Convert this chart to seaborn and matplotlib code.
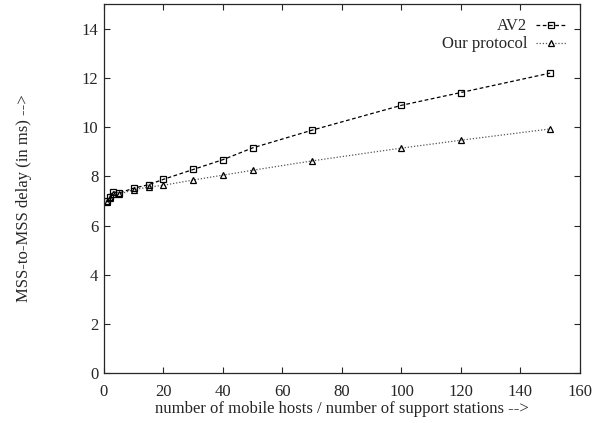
import pandas as pd
import matplotlib
matplotlib.use("Agg")
import matplotlib.pyplot as plt
import seaborn as sns

# values
hosts = [1, 2, 3, 5, 10, 15, 20, 30, 40, 50, 70, 100, 120, 150]
av2 = [6.98, 7.15, 7.38, 7.32, 7.52, 7.66, 7.88, 8.28, 8.68, 9.16, 9.88, 10.89, 11.41, 12.2]
ours = [6.95, 7.1, 7.3, 7.27, 7.46, 7.56, 7.64, 7.85, 8.05, 8.25, 8.63, 9.15, 9.47, 9.93]

df = pd.DataFrame({'hosts': hosts + hosts,
                   'delay': av2 + ours,
                   'proto': ['AV2'] * len(hosts) + ['Our protocol'] * len(hosts)})

sns.set_style("ticks")
plt.rcParams['font.family'] = ['Liberation Serif', 'DejaVu Serif']
plt.rcParams['xtick.direction'] = 'in'
plt.rcParams['ytick.direction'] = 'in'

fig = plt.figure(figsize=(6.01, 4.23), dpi=100)
ax = fig.add_axes([0.173, 0.118, 0.792, 0.872])

sns.lineplot(data=df[df.proto == 'AV2'], x='hosts', y='delay', ax=ax,
             color='black', lw=0.9, linestyle=(0, (3, 2)), marker='s', markersize=5,
             markerfacecolor='none', markeredgecolor='black', markeredgewidth=0.9,
             label='AV2')
sns.lineplot(data=df[df.proto == 'Our protocol'], x='hosts', y='delay', ax=ax,
             color='#555555', lw=0.9, linestyle=(0, (1, 1.5)), marker='^', markersize=5,
             markerfacecolor='none', markeredgecolor='black', markeredgewidth=0.9,
             label='Our protocol')

ax.set_xlim(0, 160)
ax.set_ylim(0, 15)
ax.set_xticks(range(0, 161, 20))
ax.set_yticks(range(0, 15, 2))
ax.tick_params(top=True, right=True, labelsize=12, length=4, width=0.8)
ax.tick_params(axis='x', pad=7.8)
ax.tick_params(axis='y', pad=4)
for s in ax.spines.values():
    s.set_linewidth(0.9)

ax.set_xlabel('number of mobile hosts / number of support stations -->', fontsize=12, labelpad=1)
ax.set_ylabel('MSS-to-MSS delay (in ms) -->', fontsize=12)
ax.yaxis.set_label_coords(-0.152, 0.474)

ax.legend(loc='upper right', frameon=False, markerfirst=False, fontsize=12,
          handlelength=1.8, borderaxespad=0.45, labelspacing=0.12, handletextpad=0.5)

plt.savefig('out.png', dpi=100)
